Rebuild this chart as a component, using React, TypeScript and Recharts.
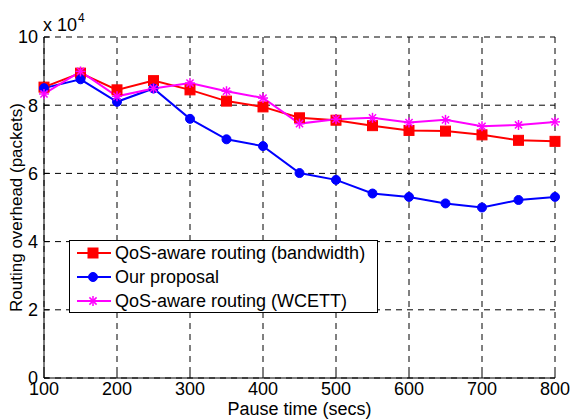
import {
  CartesianGrid,
  Legend,
  Line,
  LineChart,
  XAxis,
  YAxis,
} from 'recharts';

const pauseTimes = [100, 150, 200, 250, 300, 350, 400, 450, 500, 550, 600, 650, 700, 750, 800];
// overhead in units of 10^4 packets
const bandwidthQoS = [8.53, 8.94, 8.45, 8.72, 8.45, 8.12, 7.95, 7.63, 7.56, 7.4, 7.26, 7.24, 7.13, 6.97, 6.94];
const ourProposal = [8.5, 8.76, 8.1, 8.49, 7.6, 7.0, 6.8, 6.01, 5.81, 5.41, 5.31, 5.12, 5.0, 5.22, 5.31];
const wcettQoS = [8.33, 8.99, 8.26, 8.49, 8.65, 8.41, 8.21, 7.46, 7.59, 7.63, 7.49, 7.57, 7.38, 7.42, 7.51];
const xTicks = [100, 200, 300, 400, 500, 600, 700, 800];
const yTicks = [0, 2, 4, 6, 8, 10];

const FONT = '"Liberation Sans", Arial, sans-serif';

const data = pauseTimes.map((t, i) => ({
  t,
  bw: bandwidthQoS[i],
  ours: ourProposal[i],
  wcett: wcettQoS[i],
}));

type Marker = 'square' | 'circle' | 'star';

const series: { key: string; name: string; color: string; marker: Marker }[] = [
  { key: 'bw', name: 'QoS-aware routing (bandwidth)', color: '#ff0000', marker: 'square' },
  { key: 'ours', name: 'Our proposal', color: '#0000ff', marker: 'circle' },
  { key: 'wcett', name: 'QoS-aware routing (WCETT)', color: '#ff00ff', marker: 'star' },
];

function markerShape(kind: Marker, color: string, cx: number, cy: number, key?: string | number) {
  if (kind === 'square') {
    return <rect key={key} x={cx - 5} y={cy - 5} width={10} height={10} fill={color} stroke={color} />;
  }
  if (kind === 'circle') {
    return <circle key={key} cx={cx} cy={cy} r={4.5} fill={color} stroke={color} />;
  }
  const r = 5;
  const d = r * 0.72;
  return (
    <g key={key} stroke={color} strokeWidth={1.5}>
      <line x1={cx - r} y1={cy} x2={cx + r} y2={cy} />
      <line x1={cx} y1={cy - r} x2={cx} y2={cy + r} />
      <line x1={cx - d} y1={cy - d} x2={cx + d} y2={cy + d} />
      <line x1={cx - d} y1={cy + d} x2={cx + d} y2={cy - d} />
    </g>
  );
}

function LegendBox() {
  return (
    <div
      style={{
        border: '1px solid #000',
        background: '#fff',
        padding: '0 0 0 6px',
        height: 73,
        fontFamily: FONT,
        fontSize: 18,
        color: '#000',
        boxSizing: 'border-box',
      }}
    >
      {series.map((s) => (
        <div key={s.key} style={{ display: 'flex', alignItems: 'center', height: 24, lineHeight: '24px' }}>
          <svg width={38} height={16} style={{ marginRight: 1, flex: 'none' }}>
            <line x1={1} y1={8} x2={35} y2={8} stroke={s.color} strokeWidth={2} />
            {markerShape(s.marker, s.color, 17, 8)}
          </svg>
          <span style={{ whiteSpace: 'nowrap' }}>{s.name}</span>
        </div>
      ))}
    </div>
  );
}

export default function App() {
  return (
    <div style={{ position: 'absolute', left: 0, top: 0, width: 571, height: 420, background: '#fff' }}>
      <LineChart
        width={571}
        height={420}
        data={data}
        margin={{ top: 37, right: 16, left: 0, bottom: 0 }}
      >
        <CartesianGrid stroke="#000" strokeDasharray="6 5" />
        <XAxis
          dataKey="t"
          type="number"
          domain={[100, 800]}
          ticks={xTicks}
          height={42}
          tickSize={-5}
          tickMargin={9}
          axisLine={{ stroke: '#000' }}
          tickLine={{ stroke: '#000' }}
          tick={{ fill: '#000', fontSize: 18, fontFamily: FONT }}
          label={{
            value: 'Pause time (secs)',
            position: 'insideBottom',
            offset: 5,
            fill: '#000',
            fontSize: 18,
            fontFamily: FONT,
          }}
        />
        <XAxis
          xAxisId="top"
          orientation="top"
          type="number"
          domain={[100, 800]}
          ticks={xTicks}
          height={0}
          tickSize={-5}
          tick={false}
          axisLine={{ stroke: '#000' }}
          tickLine={{ stroke: '#000' }}
        />
        <YAxis
          type="number"
          domain={[0, 10]}
          ticks={yTicks}
          width={44}
          tickSize={-5}
          tickMargin={11}
          axisLine={{ stroke: '#000' }}
          tickLine={{ stroke: '#000' }}
          tick={{ fill: '#000', fontSize: 18, fontFamily: FONT }}
          label={{
            value: 'Routing overhead (packets)',
            angle: -90,
            position: 'center',
            dx: -6,
            fill: '#000',
            fontSize: 17,
            fontFamily: FONT,
          }}
        />
        <YAxis
          yAxisId="right"
          orientation="right"
          type="number"
          domain={[0, 10]}
          ticks={yTicks}
          width={0}
          tickSize={-5}
          tick={false}
          axisLine={{ stroke: '#000' }}
          tickLine={{ stroke: '#000' }}
        />
        <Legend
          layout="horizontal"
          verticalAlign="middle"
          align="center"
          content={() => <LegendBox />}
          wrapperStyle={{ left: 69, top: 240, width: 309, height: 73 }}
        />
        {series.map((s) => (
          <Line
            key={s.key}
            dataKey={s.key}
            name={s.name}
            stroke={s.color}
            strokeWidth={2}
            isAnimationActive={false}
            dot={(p: any) => markerShape(s.marker, s.color, p.cx, p.cy, p.key ?? p.index)}
            activeDot={false}
          />
        ))}
      </LineChart>
      <svg
        width={120}
        height={40}
        style={{ position: 'absolute', left: 0, top: 0, pointerEvents: 'none' }}
      >
        <text x={43} y={31} fontFamily={FONT} fontSize={18} fill="#000">
          x 10
          <tspan dx={1} dy={-9} fontSize={12}>
            4
          </tspan>
        </text>
      </svg>
    </div>
  );
}
